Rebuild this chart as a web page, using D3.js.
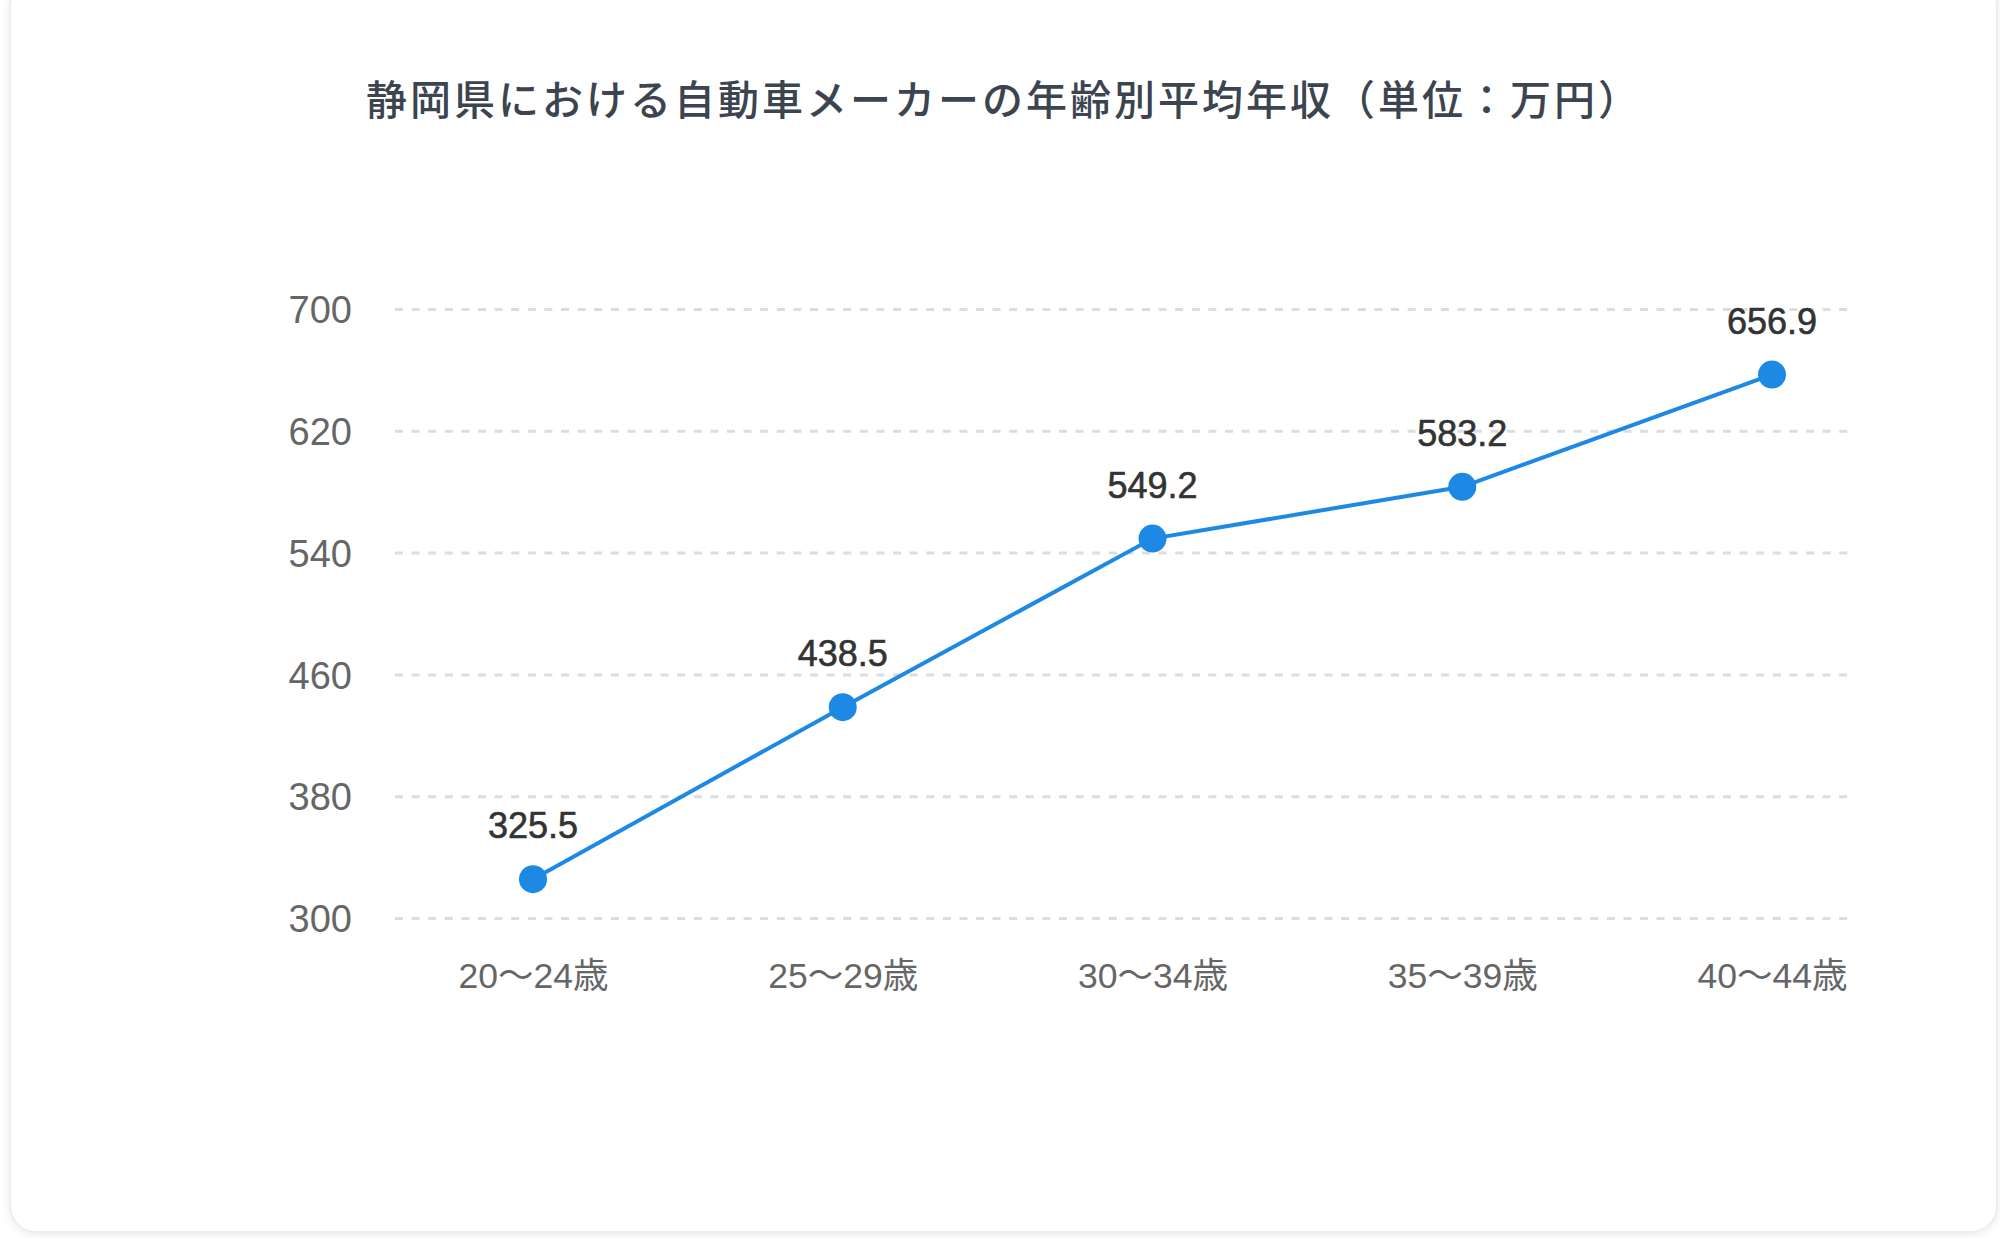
<!DOCTYPE html>
<html>
<head>
<meta charset="utf-8">
<script src="https://cdn.jsdelivr.net/npm/d3@7"></script>
<style>
html,body{margin:0;padding:0;background:#fafafa;}
svg{display:block;}
</style>
</head>
<body>
<svg id="chart" width="2000" height="1238"></svg>
<script>
const title = "静岡県における自動車メーカーの年齢別平均年収（単位：万円）";
const categories = ["20〜24歳","25〜29歳","30〜34歳","35〜39歳","40〜44歳"];
const values = [325.5, 438.5, 549.2, 583.2, 656.9];
const yTicks = [300, 380, 460, 540, 620, 700];

const svg = d3.select("#chart");
const defs = svg.append("defs");
const f = defs.append("filter").attr("id","sh").attr("x","-5%").attr("y","-5%").attr("width","110%").attr("height","110%");
f.append("feDropShadow").attr("dx",0).attr("dy",2).attr("stdDeviation",4).attr("flood-color","#000").attr("flood-opacity",0.08);

svg.append("rect").attr("x",0).attr("y",0).attr("width",2000).attr("height",1238).attr("fill","#ffffff");
svg.append("rect").attr("x",10).attr("y",-20).attr("width",1987).attr("height",1252).attr("rx",26)
  .attr("fill","#fff").attr("stroke","#ededed").attr("stroke-width",2).attr("filter","url(#sh)");

const x = d3.scalePoint().domain(categories).range([533, 1772]);
const y = d3.scaleLinear().domain([300, 700]).range([918, 309]);
const plotLeft = 395, plotRight = 1848;

svg.append("text").attr("x",366).attr("y",115)
  .attr("font-family","'Noto Sans CJK JP', sans-serif").attr("font-size",41).attr("font-weight",500)
  .attr("letter-spacing",3)
  .attr("fill","#3c4450").text(title);

// y axis grid
const yAxis = d3.axisLeft(y).tickValues(yTicks).tickSize(-(plotRight-plotLeft)).tickPadding(43);
const gy = svg.append("g").attr("transform",`translate(${plotLeft},0)`).call(yAxis);
gy.select(".domain").remove();
gy.selectAll(".tick line").attr("stroke","#dddddd").attr("stroke-width",3).attr("stroke-dasharray","8,8.6");
gy.selectAll(".tick text").attr("font-family","'Liberation Sans', Arial, sans-serif").attr("font-size",38)
  .attr("fill","#666").attr("dy","0.36em");

// x axis
const xAxis = d3.axisBottom(x).tickSize(0).tickPadding(0);
const gx = svg.append("g").attr("transform",`translate(0,918)`).call(xAxis);
gx.select(".domain").remove();
gx.selectAll(".tick text").attr("font-family","'Liberation Sans', 'Noto Sans CJK JP', sans-serif").attr("font-size",35.5)
  .attr("fill","#666").attr("dy",null).attr("y",70);

const line = d3.line().x((d,i)=>x(categories[i])).y(d=>y(d));
svg.append("path").datum(values).attr("d",line).attr("fill","none").attr("stroke","#1e88e5").attr("stroke-width",4);

svg.selectAll("circle.pt").data(values).enter().append("circle").attr("class","pt")
  .attr("cx",(d,i)=>x(categories[i])).attr("cy",d=>y(d)).attr("r",14).attr("fill","#1e88e5");

svg.selectAll("text.lbl").data(values).enter().append("text").attr("class","lbl")
  .attr("x",(d,i)=>x(categories[i])).attr("y",d=>y(d)-41).attr("text-anchor","middle")
  .attr("font-family","'Liberation Sans', Arial, sans-serif").attr("font-size",36)
  .attr("stroke","#333").attr("stroke-width",0.6)
  .attr("fill","#333").text(d=>d.toFixed(1));
</script>
</body>
</html>
